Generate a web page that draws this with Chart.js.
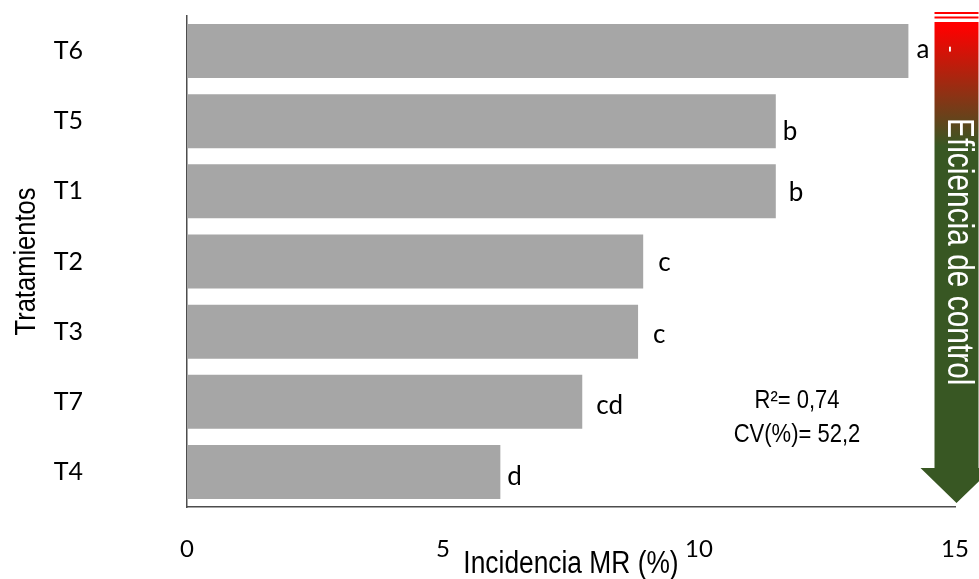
<!DOCTYPE html>
<html>
<head>
<meta charset="utf-8">
<script src="https://cdn.jsdelivr.net/npm/chart.js@4.4.1/dist/chart.umd.min.js"></script>
<style>
  body { margin: 0; background: #ffffff; }
  canvas { display: block; }
</style>
</head>
<body>
<canvas id="chart" width="979" height="579"></canvas>
<script>
const treatments = ["T6", "T5", "T1", "T2", "T3", "T7", "T4"];
const incidence = [14.09, 11.5, 11.5, 8.91, 8.81, 7.72, 6.12];
const groups = ["a", "b", "b", "c", "c", "cd", "d"];
const xTicks = [0, 5, 10, 15];
const xTitle = "Incidencia MR (%)";
const yTitle = "Tratamientos";
const arrowText = "Eficiencia de control";
const statsLines = ["R\u00b2= 0,74", "CV(%)= 52,2"];

// no Arial Narrow here, so squeeze Liberation Sans horizontally
function narrowText(ctx, text, x, y, size, squeeze, angle, align) {
  ctx.save();
  ctx.translate(x, y);
  ctx.rotate(angle || 0);
  ctx.scale(squeeze, 1);
  ctx.font = size + "px 'Liberation Sans', Arial, sans-serif";
  ctx.textAlign = align || "center";
  ctx.textBaseline = "middle";
  ctx.fillText(text, 0, 0);
  ctx.restore();
}

// small hand nudges for the letters, as placed in the original figure
const letterNudge = [[8, 7], [7, 19], [13, 10], [15, 9], [15, 11], [14, 12], [7, 13]];

const extras = {
  id: "extras",
  afterDraw(chart) {
    const ctx = chart.ctx;
    const area = chart.chartArea;
    const meta = chart.getDatasetMeta(0);

    ctx.save();
    ctx.fillStyle = "#000000";

    // significance letters next to each bar
    ctx.font = "26px Lato";
    ctx.textAlign = "left";
    ctx.textBaseline = "alphabetic";
    meta.data.forEach((bar, i) => {
      ctx.fillText(groups[i], bar.x + letterNudge[i][0], bar.y + letterNudge[i][1]);
    });

    // axis titles
    narrowText(ctx, xTitle, (area.left + area.right) / 2, 564, 31, 0.85);
    narrowText(ctx, yTitle, 27, (area.top + area.bottom) / 2, 30, 0.85, -Math.PI / 2);

    // R2 / CV box
    narrowText(ctx, statsLines[0], 797, 401, 25, 0.88);
    narrowText(ctx, statsLines[1], 797, 435, 25, 0.88);
    ctx.restore();

    // arrow on the right
    const cx = area.right + 1.5;
    const top = area.top + 6;
    const headY = area.bottom - 39;
    const tipY = area.bottom - 4;
    const grad = ctx.createLinearGradient(0, top + 4, 0, top + 124);
    grad.addColorStop(0, "#ff0000");
    grad.addColorStop(1, "#385723");

    ctx.save();
    ctx.fillStyle = "#ff0000";
    ctx.fillRect(cx - 22, top - 10, 44, 2);
    ctx.fillRect(cx - 22, top - 5.5, 44, 2);

    ctx.fillStyle = grad;
    ctx.beginPath();
    ctx.moveTo(cx - 22, top);
    ctx.lineTo(cx + 22, top);
    ctx.lineTo(cx + 22, headY);
    ctx.lineTo(cx + 36, headY);
    ctx.lineTo(cx, tipY);
    ctx.lineTo(cx - 36, headY);
    ctx.lineTo(cx - 22, headY);
    ctx.closePath();
    ctx.fill();

    ctx.fillStyle = "#ffffff";
    narrowText(ctx, arrowText, cx + 1, 118, 36, 0.83, Math.PI / 2, "left");
    narrowText(ctx, "-", cx - 6, 49, 24, 0.83, Math.PI / 2);
    ctx.restore();
  },
};

const ctx = document.getElementById("chart").getContext("2d");

new Chart(ctx, {
  type: "bar",
  data: {
    labels: treatments,
    datasets: [
      {
        data: incidence,
        backgroundColor: "#a6a6a6",
        borderWidth: 0,
        barPercentage: 0.77,
        categoryPercentage: 1,
      },
    ],
  },
  options: {
    indexAxis: "y",
    responsive: false,
    animation: false,
    devicePixelRatio: 1,
    layout: { padding: { top: 16, right: 24, left: 0, bottom: 0 } },
    plugins: {
      legend: { display: false },
      tooltip: { enabled: false },
    },
    scales: {
      x: {
        min: 0,
        max: 15,
        afterBuildTicks: (scale) => {
          scale.ticks = xTicks.map((v) => ({ value: v }));
        },
        afterFit: (scale) => {
          scale.height = 72;
          scale.paddingLeft = 0;
          scale.paddingRight = 0;
        },
        grid: { display: false, drawTicks: false },
        border: { display: true, color: "#4d4d4d", width: 1.5 },
        ticks: {
          color: "#000000",
          font: { family: "Lato", size: 24 },
          padding: 28,
          maxRotation: 0,
        },
      },
      y: {
        afterFit: (scale) => {
          scale.width = 187;
          scale.paddingTop = 0;
          scale.paddingBottom = 0;
        },
        grid: { display: false, drawTicks: false },
        border: { display: true, color: "#4d4d4d", width: 1.5 },
        ticks: {
          color: "#000000",
          font: { family: "Lato", size: 25 },
          padding: 104,
        },
      },
    },
  },
  plugins: [extras],
});
</script>
</body>
</html>
